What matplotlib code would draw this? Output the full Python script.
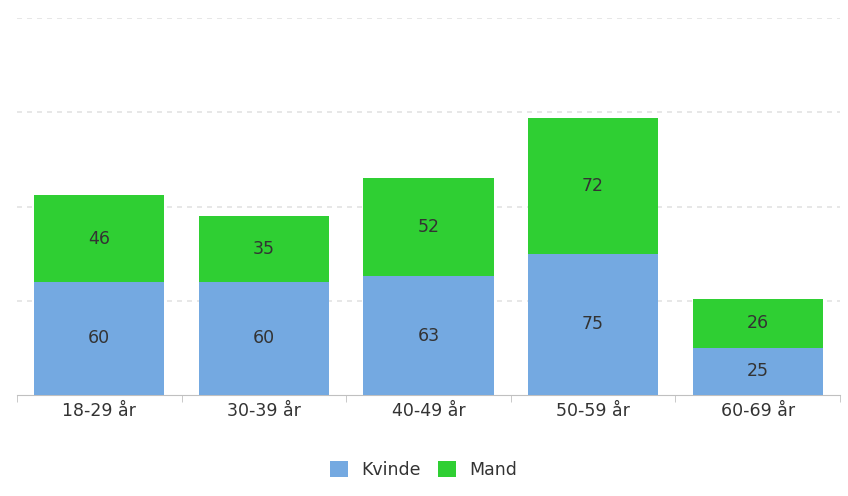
import matplotlib
matplotlib.use("Agg")
import matplotlib.pyplot as plt
import numpy as np

plt.rcParams["font.family"] = ["DejaVu Sans"]

categories = ["18-29 år", "30-39 år", "40-49 år", "50-59 år", "60-69 år"]
kvinde = [60, 60, 63, 75, 25]
mand = [46, 35, 52, 72, 26]

blue = "#74a9e1"
green = "#2fcf33"
txt = "#333333"
fs = 12.5

fig = plt.figure(figsize=(8.48, 4.96), dpi=100)
ax = fig.add_axes([0.020, 0.2036, 0.9706, 0.7601])
x = np.arange(len(categories))
w = 0.79
ax.bar(x, kvinde, w, color=blue, label="Kvinde", zorder=3)
ax.bar(x, mand, w, bottom=kvinde, color=green, label="Mand", zorder=3)
for i in range(len(categories)):
    ax.text(x[i], kvinde[i] / 2, str(kvinde[i]), ha="center", va="center",
            fontsize=fs, color=txt, zorder=4)
    ax.text(x[i], kvinde[i] + mand[i] / 2, str(mand[i]), ha="center", va="center",
            fontsize=fs, color=txt, zorder=4)

ax.set_xlim(-0.5, len(categories) - 0.5)
ax.set_ylim(0, 200)
for yv in [50, 100, 150, 200]:
    ax.axhline(yv, color="#e3e3e3", lw=1.2, ls=(0, (3, 3)), zorder=1)
for s in ["top", "right", "left"]:
    ax.spines[s].set_visible(False)
ax.spines["bottom"].set_color("#c0c0c0")
ax.set_yticks([])
ax.set_xticks(x)
ax.set_xticklabels(categories, fontsize=fs, color=txt)
ax.tick_params(axis="x", length=0, pad=5)
ax.set_xticks(np.arange(-0.5, len(categories)), minor=True)
ax.tick_params(axis="x", which="minor", length=5, color="#c0c0c0")

leg = fig.legend(loc="lower center", bbox_to_anchor=(0.5, 0.003), ncol=2, frameon=False,
                 fontsize=fs, handlelength=1.0, handleheight=1.0, columnspacing=1.0,
                 handletextpad=0.8)
for t in leg.get_texts():
    t.set_color(txt)

fig.savefig("out.png", dpi=100, facecolor="white")
